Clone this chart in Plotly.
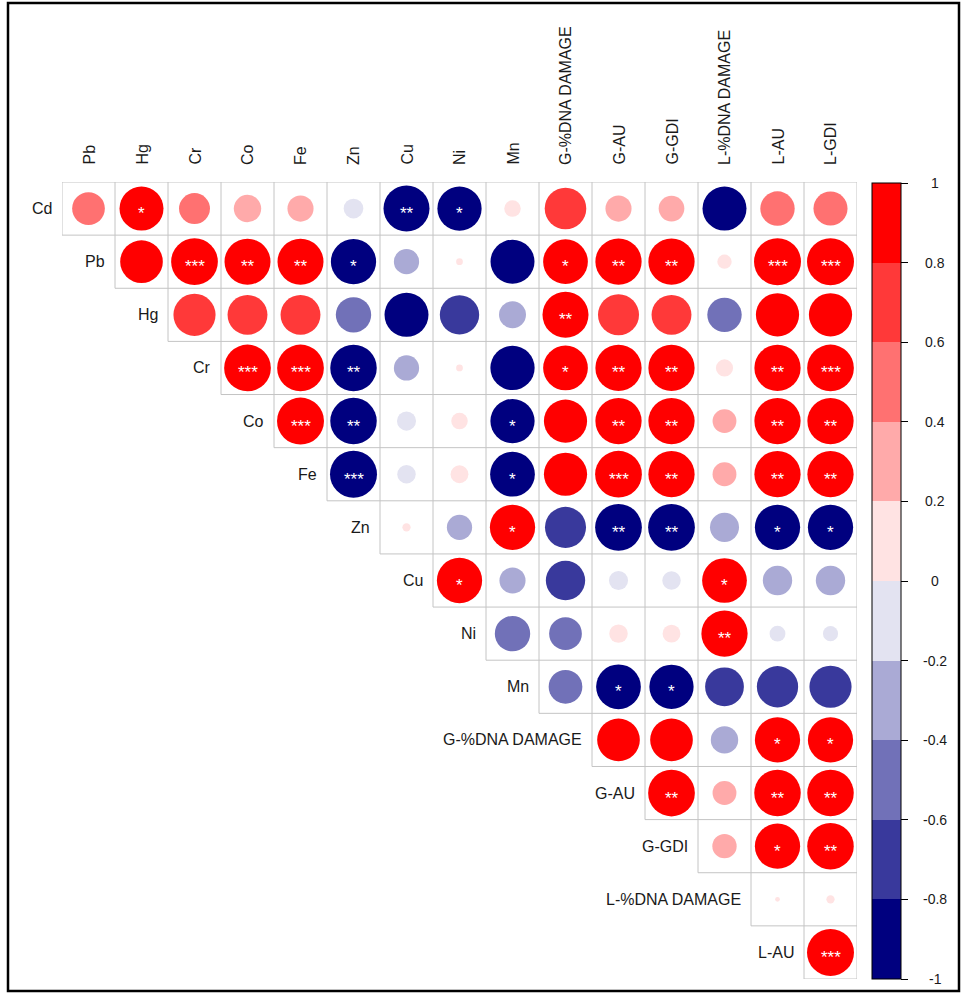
import numpy as np
import plotly.graph_objects as go

# ---------------- data ----------------
row_labels = ["Cd", "Pb", "Hg", "Cr", "Co", "Fe", "Zn", "Cu", "Ni", "Mn",
              "G-%DNA DAMAGE", "G-AU", "G-GDI", "L-%DNA DAMAGE", "L-AU"]
col_labels = ["Pb", "Hg", "Cr", "Co", "Fe", "Zn", "Cu", "Ni", "Mn",
              "G-%DNA DAMAGE", "G-AU", "G-GDI", "L-%DNA DAMAGE", "L-AU", "L-GDI"]

# correlation values per row (upper triangle, starting at column index == row index)
r_Cd = [0.47, 0.85, 0.42, 0.33, 0.30, -0.17, -0.93, -0.86, 0.12, 0.76, 0.30, 0.29, -0.85, 0.52, 0.51]
r_Pb = [0.80, 0.96, 0.93, 0.93, -0.90, -0.28, 0.02, -0.85, 0.88, 0.94, 0.94, 0.09, 0.97, 0.97]
r_Hg = [0.78, 0.70, 0.70, -0.55, -0.85, -0.68, -0.32, 0.93, 0.74, 0.70, -0.52, 0.82, 0.82]
r_Cr = [0.96, 0.96, -0.95, -0.28, 0.02, -0.86, 0.88, 0.94, 0.94, 0.13, 0.94, 0.96]
r_Co = [0.97, -0.95, -0.16, 0.12, -0.86, 0.82, 0.94, 0.94, 0.25, 0.94, 0.94]
r_Fe = [-0.97, -0.15, 0.14, -0.88, 0.82, 0.96, 0.94, 0.25, 0.94, 0.94]
r_Zn = [0.03, -0.28, 0.90, -0.74, -0.96, -0.96, -0.37, -0.90, -0.90]
r_Cu = [0.90, -0.30, -0.68, -0.16, -0.15, 0.88, -0.38, -0.38]
r_Ni = [-0.55, -0.47, 0.15, 0.14, 0.94, -0.11, -0.10]
r_Mn = [-0.50, -0.88, -0.86, -0.66, -0.75, -0.78]
r_GDNA = [0.80, 0.80, -0.33, 0.90, 0.90]
r_GAU = [0.96, 0.25, 0.95, 0.95]
r_GGDI = [0.26, 0.90, 0.95]
r_LDNA = [0.01, 0.03]
r_LAU = [0.97]

# significance stars per row
s_Cd = ["", "*", "", "", "", "", "**", "*", "", "", "", "", "", "", ""]
s_Pb = ["", "***", "**", "**", "*", "", "", "", "*", "**", "**", "", "***", "***"]
s_Hg = ["", "", "", "", "", "", "", "**", "", "", "", "", ""]
s_Cr = ["***", "***", "**", "", "", "", "*", "**", "**", "", "**", "***"]
s_Co = ["***", "**", "", "", "*", "", "**", "**", "", "**", "**"]
s_Fe = ["***", "", "", "*", "", "***", "**", "", "**", "**"]
s_Zn = ["", "", "*", "", "**", "**", "", "*", "*"]
s_Cu = ["*", "", "", "", "", "*", "", ""]
s_Ni = ["", "", "", "", "**", "", ""]
s_Mn = ["", "*", "*", "", "", ""]
s_GDNA = ["", "", "", "*", "*"]
s_GAU = ["**", "", "**", "**"]
s_GGDI = ["", "*", "**"]
s_LDNA = ["", ""]
s_LAU = ["***"]

value_rows = [r_Cd, r_Pb, r_Hg, r_Cr, r_Co, r_Fe, r_Zn, r_Cu, r_Ni, r_Mn,
              r_GDNA, r_GAU, r_GGDI, r_LDNA, r_LAU]
star_rows = [s_Cd, s_Pb, s_Hg, s_Cr, s_Co, s_Fe, s_Zn, s_Cu, s_Ni, s_Mn,
             s_GDNA, s_GAU, s_GGDI, s_LDNA, s_LAU]

bar_ticks = [1, 0.8, 0.6, 0.4, 0.2, 0, -0.2, -0.4, -0.6, -0.8, -1]
bar_tick_text = ["1", "0.8", "0.6", "0.4", "0.2", "0", "-0.2", "-0.4", "-0.6", "-0.8", "-1"]

palette = ["#00007F", "#39399C", "#7171B8", "#AAAAD5", "#E3E3F1",
           "#FFE3E3", "#FFAAAA", "#FF7171", "#FF3939", "#FF0000"]

# ---------------- geometry ----------------
W, H = 961, 994
ML, MR, MT, MB = 62, 104, 182, 15
n = len(col_labels)
plot_w = W - ML - MR
plot_h = H - MT - MB
cell_px = min(plot_w, plot_h) / n

CB_LEFT, CB_TOP, CB_LEN, CB_THICK = 872, 183, 796, 29
CB_LABEL_X = 935
FONT = "Liberation Sans, Arial"


def px_x(p):
    return (p - ML) / plot_w


def px_y(p):
    return (H - MB - p) / plot_h


# discrete colour scale
cs = []
nb = len(palette)
for k, c in enumerate(palette):
    cs.append([k / nb, c])
    cs.append([(k + 1) / nb, c])

xs, ys, vals, sizes = [], [], [], []
for i, row in enumerate(value_rows):
    for k, v in enumerate(row):
        j = i + k
        xs.append(j)
        ys.append(i)
        vals.append(v)
        sizes.append(0.9 * cell_px * np.sqrt(abs(v)))

# grid lines
gx, gy = [], []
for k in range(n + 1):
    x0 = -0.5 if k == 0 else min(k - 1, n - 1) - 0.5
    gx += [x0, n - 0.5, None]
    gy += [k - 0.5, k - 0.5, None]
for j in range(n + 1):
    gx += [j - 0.5, j - 0.5, None]
    gy += [-0.5, min(j, n - 1) + 0.5, None]

fig = go.Figure()
fig.add_trace(go.Scatter(x=gx, y=gy, mode="lines",
                         line=dict(color="#C4C4C4", width=1),
                         hoverinfo="skip", showlegend=False))
fig.add_trace(go.Scatter(
    x=xs, y=ys, mode="markers", showlegend=False,
    marker=dict(size=sizes, color=vals, colorscale=cs, cmin=-1, cmax=1,
                line=dict(width=0), opacity=1,
                showscale=True,
                colorbar=dict(
                    thickness=CB_THICK, thicknessmode="pixels",
                    len=CB_LEN, lenmode="pixels",
                    x=px_x(CB_LEFT), xanchor="left", xpad=0,
                    y=px_y(CB_TOP), yanchor="top", ypad=0,
                    outlinewidth=1, outlinecolor="black",
                    tickmode="array", tickvals=bar_ticks, ticktext=bar_tick_text,
                    showticklabels=False,
                    ticks="outside", ticklen=7, tickcolor="black", tickwidth=1,
                )),
    hovertemplate="%{marker.color}<extra></extra>"))

annotations = []
for i, row in enumerate(star_rows):
    for k, s in enumerate(row):
        if s:
            annotations.append(dict(x=i + k, y=i, text=s, showarrow=False,
                                    font=dict(family=FONT, size=17, color="white"),
                                    xanchor="center", yanchor="middle", yshift=-5))
for i, lab in enumerate(row_labels):
    annotations.append(dict(x=i - 0.5, y=i, text=lab, showarrow=False,
                            font=dict(family=FONT, size=16, color="#1a1a1a"),
                            xanchor="right", yanchor="middle", xshift=-8))
for j, lab in enumerate(col_labels):
    annotations.append(dict(x=j, y=-0.5, text=lab, showarrow=False, textangle=-90,
                            font=dict(family=FONT, size=16, color="#1a1a1a"),
                            xanchor="center", yanchor="bottom", yshift=15))
# colour-bar tick labels, centred (positions follow the colour bar scale)
for v, t in zip(bar_ticks, bar_tick_text):
    ypx = CB_TOP + (1 - v) / 2 * CB_LEN
    annotations.append(dict(xref="paper", yref="paper", x=px_x(CB_LABEL_X), y=px_y(ypx),
                            text=t, showarrow=False, xanchor="center", yanchor="middle",
                            font=dict(family=FONT, size=14, color="#1a1a1a")))

shapes = [dict(type="rect", xref="paper", yref="paper",
               x0=px_x(8), x1=px_x(959), y0=px_y(991), y1=px_y(3),
               line=dict(color="black", width=2.5), layer="below")]

fig.update_layout(
    width=W, height=H,
    margin=dict(l=ML, r=MR, t=MT, b=MB),
    paper_bgcolor="white", plot_bgcolor="white",
    xaxis=dict(range=[-0.5, n - 0.5], visible=False, fixedrange=True),
    yaxis=dict(range=[n - 0.5, -0.5], visible=False, fixedrange=True),
    annotations=annotations, shapes=shapes,
)

fig.write_html("out.html")
